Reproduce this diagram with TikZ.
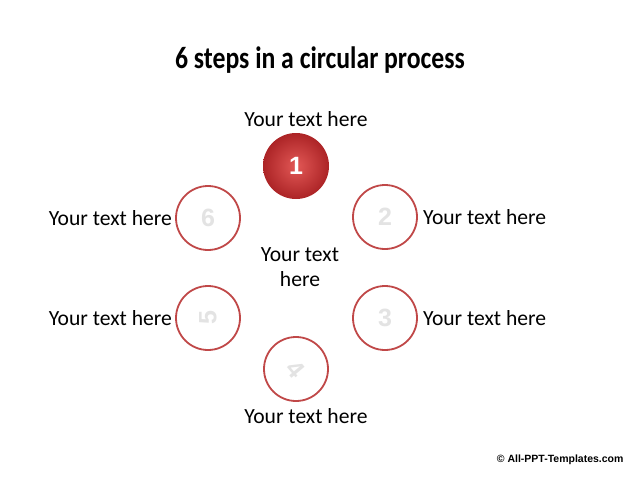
\documentclass[tikz,border=0pt]{standalone}
\usepackage{fontspec}
\setmainfont{Carlito}
\newfontfamily\arialfont{Liberation Sans}
\newfontfamily\titlefont[FakeStretch=0.83]{Carlito}
\usetikzlibrary{positioning}
\definecolor{ringred}{RGB}{192,72,72}
\definecolor{ballin}{RGB}{226,88,86}
\definecolor{ballout}{RGB}{172,36,38}

\begin{document}
\begin{tikzpicture}[x=1pt, y=-1pt,
    step_ball/.style={circle, minimum size=66pt, inner sep=0pt,
        shading=radial, inner color=ballin, outer color=ballout},
    step_ring/.style={circle, minimum size=64pt, inner sep=0pt,
        draw=ringred, line width=1.8pt, fill=white},
    ball_num/.style={font=\arialfont\bfseries\fontsize{25}{28}\selectfont, text=white},
    ring_num/.style={font=\arialfont\bfseries\fontsize{25}{28}\selectfont, text=gray!22},
    step_text/.style={font=\fontsize{21.6}{25}\selectfont, inner sep=0pt},
    title_text/.style={font=\titlefont\bfseries\fontsize{31}{36}\selectfont}
]
    \useasboundingbox (0,0) rectangle (640,480);
    \node[title_text] (title) at (320,60) {6 steps in a circular process};
    % Circulos
    \node[step_ball] (c1) at (296,166) {};
    \node[ball_num] (n1) at (c1) {1};
    \node[step_ring] (c2) at (385,217) {};
    \node[ring_num] (n2) at (c2) {2};
    \node[step_ring] (c3) at (385,318) {};
    \node[ring_num] (n3) at (c3) {3};
    \node[step_ring] (c4) at (296,369) {};
    \node[ring_num, rotate=-50] (n4) at (c4) {4};
    \node[step_ring] (c5) at (208,318) {};
    \node[ring_num, rotate=90] (n5) at (c5) {5};
    \node[step_ring] (c6) at (208,218) {};
    \node[ring_num] (n6) at (c6) {6};
    % Textos
    \node[step_text, above=6pt of c1, xshift=10pt] (t1) {Your text here};
    \node[step_text, right=5pt of c2] (t2) {Your text here};
    \node[step_text, right=5pt of c3] (t3) {Your text here};
    \node[step_text, below=6pt of c4, xshift=10pt] (t4) {Your text here};
    \node[step_text, left=3pt of c5] (t5) {Your text here};
    \node[step_text, left=3pt of c6] (t6) {Your text here};
    \node[step_text, align=center] (mid) at (300,267) {Your text\\here};
    \node[font=\arialfont\bfseries\fontsize{10.5}{12}\selectfont, anchor=east] (copy) at (627,460) {© All-PPT-Templates.com};
\end{tikzpicture}
\end{document}
